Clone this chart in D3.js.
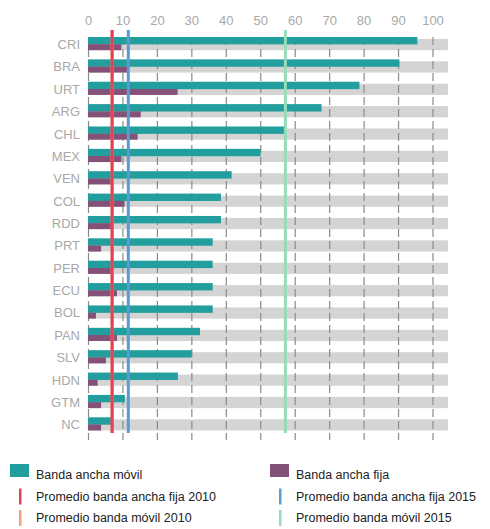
<!DOCTYPE html>
<html><head><meta charset="utf-8">
<script src="https://cdn.jsdelivr.net/npm/d3@7"></script>
<style>
body{margin:0;background:#fff;}
svg{display:block;font-family:"Liberation Sans",Arial,sans-serif;}
</style></head>
<body><svg id="c" width="490" height="529"></svg>
<script>
const categories = ["CRI","BRA","URT","ARG","CHL","MEX","VEN","COL","RDD","PRT","PER","ECU","BOL","PAN","SLV","HDN","GTM","NC"];
const movil = [95.6,90.4,78.8,67.8,57.1,50.1,41.7,38.6,38.6,36.2,36.2,36.2,36.2,32.5,30.1,26.1,10.7,6.7];
const fija  = [9.7,11.4,26.0,15.3,14.4,9.7,6.7,10.6,6.7,3.8,6.7,8.4,2.3,8.4,5.2,2.8,3.8,3.8];
const avgFija2010 = 7.0, avgFija2015 = 11.7, avgMovil2010 = 7.0, avgMovil2015 = 57.3;
const ticks = [0,10,20,30,40,50,60,70,80,90,100];
const legendItems = [
  {label:"Banda ancha móvil", type:"rect", color:"#229e9f"},
  {label:"Banda ancha fija", type:"rect", color:"#845178"},
  {label:"Promedio banda ancha fija 2010", type:"line", color:"#e34058"},
  {label:"Promedio banda ancha fija 2015", type:"line", color:"#5a9bd0"},
  {label:"Promedio banda móvil 2010", type:"line", color:"#f4a17c"},
  {label:"Promedio banda móvil 2015", type:"line", color:"#97dcb8"}
];

const svg = d3.select("#c");
const x = d3.scaleLinear().domain([0,104.5]).range([88,448]);
const y = d3.scaleBand().domain(categories).range([33.5, 33.5+18*22.37]);
const rows = categories.map((c,i)=>({c, m:movil[i], f:fija[i]}));

// gray background bars
svg.append("g").selectAll("rect").data(rows).join("rect")
  .attr("x", x(0)).attr("y", d=>y(d.c)+5.5)
  .attr("width", x(104.5)-x(0)).attr("height", 11.2)
  .attr("fill","#d4d4d4");

// gridlines
const grid = svg.append("g").attr("transform","translate(0,37)")
  .call(d3.axisBottom(x).tickValues(ticks).tickSize(403).tickFormat(""));
grid.select(".domain").remove();
grid.selectAll("line").attr("stroke","#8a8a8a").attr("stroke-width",1.2).attr("stroke-dasharray","8,4");

// bars
svg.append("g").selectAll("rect").data(rows).join("rect")
  .attr("x", x(0)).attr("y", d=>y(d.c)+3.5)
  .attr("width", d=>x(d.m)-x(0)).attr("height", 7.4)
  .attr("fill","#229e9f");
svg.append("g").selectAll("rect").data(rows).join("rect")
  .attr("x", x(0)).attr("y", d=>y(d.c)+10.7)
  .attr("width", d=>x(d.f)-x(0)).attr("height", 6)
  .attr("fill","#845178");

// average lines
const avgs = [
  {v:avgMovil2010, color:"#f4a17c"},
  {v:avgFija2010, color:"#e34058"},
  {v:avgFija2015, color:"#5a9bd0"},
  {v:avgMovil2015, color:"#97dcb8"}
];
svg.append("g").selectAll("line").data(avgs).join("line")
  .attr("x1", d=>x(d.v)).attr("x2", d=>x(d.v))
  .attr("y1", 30).attr("y2", 433)
  .attr("stroke", d=>d.color).attr("stroke-width", 3);

// top axis labels
const ax = svg.append("g").attr("transform","translate(0,28)")
  .call(d3.axisTop(x).tickValues(ticks).tickSize(0).tickPadding(3));
ax.select(".domain").remove();
ax.selectAll("text").attr("fill","#a8a8a8").attr("font-size",13).attr("font-family","'Liberation Sans',Arial,sans-serif");

// category labels
svg.append("g").selectAll("text").data(categories).join("text")
  .attr("x", 80).attr("y", d=>y(d)+11).attr("dy","0.35em")
  .attr("text-anchor","end").attr("fill","#a8a8a8").attr("font-size",13)
  .text(d=>d);

// legend
const lg = svg.append("g").selectAll("g").data(legendItems).join("g")
  .attr("transform",(d,i)=>`translate(${i%2===0?10:270},${475+Math.floor(i/2)*21.5})`);
lg.filter(d=>d.type==="rect").append("rect")
  .attr("x",0).attr("y",-11).attr("width",19).attr("height",13).attr("fill",d=>d.color);
lg.filter(d=>d.type==="line").append("rect")
  .attr("x",9).attr("y",-8).attr("width",2.5).attr("height",16).attr("fill",d=>d.color);
lg.append("text").attr("x",26).attr("y",0).attr("dy","0.35em")
  .attr("font-size",12.5).attr("fill","#222").text(d=>d.label);
</script></body></html>
